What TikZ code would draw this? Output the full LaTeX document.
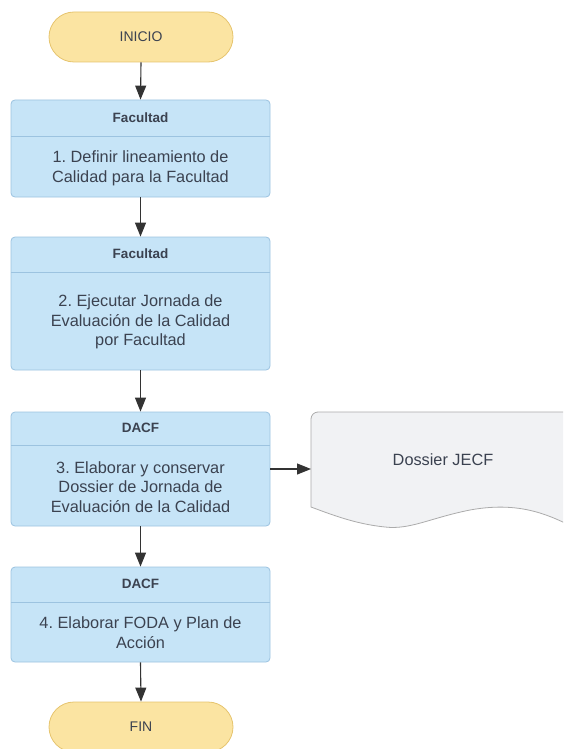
\documentclass[tikz,border=0pt]{standalone}
\usepackage{fontspec}
\setmainfont{Liberation Sans}
\usetikzlibrary{arrows.meta}
\frenchspacing
\definecolor{boxfill}{HTML}{C6E4F7}
\definecolor{boxline}{HTML}{9CC3E0}
\definecolor{termfill}{HTML}{FBE4A2}
\definecolor{termline}{HTML}{E6C46E}
\definecolor{docfill}{HTML}{F1F2F4}
\definecolor{docline}{HTML}{ABABAB}
\definecolor{txt}{HTML}{3B4250}
\definecolor{arrowcol}{HTML}{333333}
\tikzset{
  stepbox/.style={draw=boxline, fill=boxfill, line width=0.8pt, rounded corners=4pt, minimum width=259pt, inner sep=0pt},
  termbox/.style={draw=termline, fill=termfill, line width=0.8pt, rounded corners=25pt, minimum width=184pt, minimum height=50pt, inner sep=0pt, text=txt, font=\fontsize{14}{17}\selectfont},
  headtxt/.style={text=txt, font=\fontsize{13.5}{16}\selectfont\bfseries, inner sep=0pt},
  bodytxt/.style={text=txt, font=\fontsize{16.3}{19.6}\selectfont, align=center, inner sep=0pt},
  divider/.style={draw=boxline, line width=0.8pt},
  flow/.style={draw=arrowcol, line width=1.1pt, -{Triangle[width=11pt,length=14pt]}},
}
\begin{document}
\begin{tikzpicture}[x=1pt,y=-1pt]
\useasboundingbox (0,0) rectangle (563,749);
\begin{scope}
\clip (0,0) rectangle (563,749);
% terminals
\node[termbox] (ini) at (141,37) {INICIO};
\node[termbox] (fin) at (141,727) {FIN};
% step 1
\node[stepbox, minimum height=97pt] (b1) at (140.5,148.5) {};
\draw[divider] (11,136) -- (270,136);
\node[headtxt] (h1) at (140.5,118) {Facultad};
\node[bodytxt] (t1) at (140.5,168.5) {1. Definir lineamiento de\\Calidad para la Facultad};
% step 2
\node[stepbox, minimum height=133pt] (b2) at (140.5,303.5) {};
\draw[divider] (11,272) -- (270,272);
\node[headtxt] (h2) at (140.5,254) {Facultad};
\node[bodytxt] (t2) at (140.5,322) {2. Ejecutar Jornada de\\Evaluaci\'on de la Calidad\\por Facultad};
% step 3
\node[stepbox, minimum height=114pt] (b3) at (140.5,469) {};
\draw[divider] (11,445) -- (270,445);
\node[headtxt] (h3) at (140.5,428) {DACF};
\node[bodytxt] (t3) at (140.5,487) {3. Elaborar y conservar\\Dossier de Jornada de\\Evaluaci\'on de la Calidad};
% step 4
\node[stepbox, minimum height=95pt] (b4) at (140.5,614.5) {};
\draw[divider] (11,602) -- (270,602);
\node[headtxt] (h4) at (140.5,584) {DACF};
\node[bodytxt] (t4) at (140.5,632.5) {4. Elaborar FODA y Plan de\\Acci\'on};
% document
\draw[draw=docline, fill=docfill, line width=0.8pt]
  (311,470) [rounded corners=7pt] -- (311,412) -- (400,412) [sharp corners] -- (585,412) -- (585,533)
  .. controls (555,518) and (525,500) .. (470,510)
  .. controls (430,518) and (410,530) .. (385,527)
  .. controls (355,524) and (330,514) .. (311,507) -- cycle;
\node[text=txt, font=\fontsize{16.3}{19.6}\selectfont, inner sep=0pt] (doc) at (443,460) {Dossier JECF};
\coordinate (docin) at (311,469);
% connectors
\draw[flow] (ini.south) -- (b1.north);
\draw[flow] (b1.south) -- (b2.north);
\draw[flow] (b2.south) -- (b3.north);
\draw[flow] (b3.south) -- (b4.north);
\draw[flow] (b4.south) -- (fin.north);
\draw[flow] (b3.east) -- (docin);
\end{scope}
\end{tikzpicture}
\end{document}
